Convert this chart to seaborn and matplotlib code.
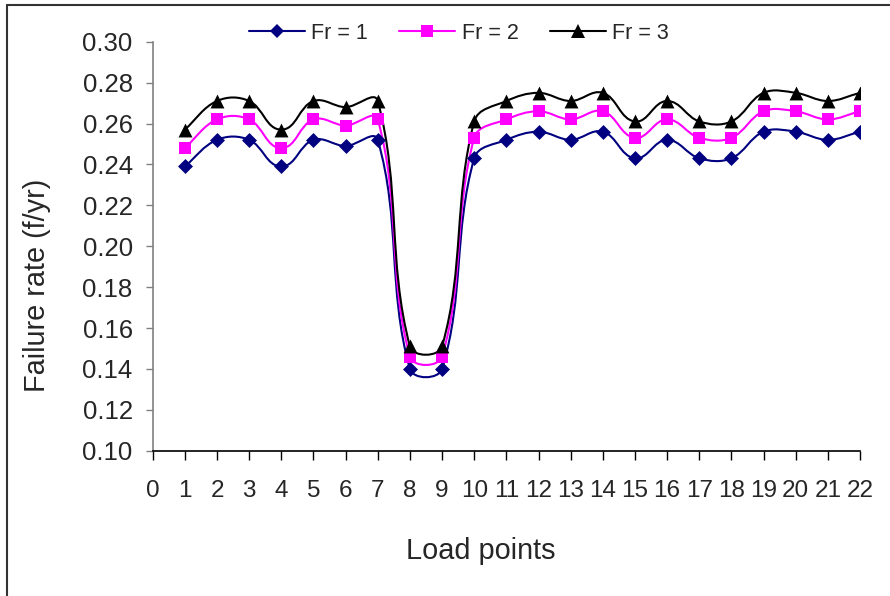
import numpy as np
import pandas as pd
import seaborn as sns
import matplotlib.pyplot as plt
from matplotlib.path import Path
from matplotlib.patches import PathPatch
from matplotlib.lines import Line2D

# values
load_points = list(range(1, 23))
fr1 = [0.239, 0.252, 0.252, 0.239, 0.252, 0.249, 0.252, 0.140, 0.140, 0.243, 0.252,
       0.256, 0.252, 0.256, 0.243, 0.252, 0.243, 0.243, 0.256, 0.256, 0.252, 0.256]
fr2 = [0.248, 0.262, 0.262, 0.248, 0.262, 0.259, 0.262, 0.146, 0.146, 0.253, 0.262,
       0.266, 0.262, 0.266, 0.253, 0.262, 0.253, 0.253, 0.266, 0.266, 0.262, 0.266]
fr3 = [0.257, 0.271, 0.271, 0.257, 0.271, 0.268, 0.271, 0.151, 0.151, 0.261, 0.271,
       0.275, 0.271, 0.275, 0.261, 0.271, 0.261, 0.261, 0.275, 0.275, 0.271, 0.275]
series_names = ['Fr = 1', 'Fr = 2', 'Fr = 3']
x_ticks = list(range(0, 23))
y_ticks = [0.10, 0.12, 0.14, 0.16, 0.18, 0.20, 0.22, 0.24, 0.26, 0.28, 0.30]

colors = ['#000080', '#FF00FF', '#000000']
markers = ['D', 's', '^']
msizes = [58, 78, 100]

df = pd.DataFrame({
    'Load points': load_points * 3,
    'Failure rate': fr1 + fr2 + fr3,
    'Series': sum([[n] * len(load_points) for n in series_names], []),
})

sns.set_theme(style='white')
plt.rcParams['font.family'] = ['Liberation Sans', 'DejaVu Sans']

fig = plt.figure(figsize=(8.9, 5.96), dpi=100)
ax = fig.add_axes([152.7 / 890, 1 - 450.7 / 596, 707.3 / 890, 409 / 596])

# pixel scale of one data unit, used to smooth the lines like Excel does
sx, sy = 707.3 / 22, 409 / 0.20


def smooth_path(xs, ys, t=0.36):
    px = np.asarray(xs, float) * sx
    py = np.asarray(ys, float) * sy
    n = len(px)
    verts = [(px[0], py[0])]
    codes = [Path.MOVETO]
    for i in range(n - 1):
        a, b = max(i - 1, 0), min(i + 2, n - 1)
        seg = np.hypot(px[i + 1] - px[i], py[i + 1] - py[i])
        t0 = np.array([px[i + 1] - px[a], py[i + 1] - py[a]])
        t0 /= np.hypot(*t0)
        t1 = np.array([px[b] - px[i], py[b] - py[i]])
        t1 /= np.hypot(*t1)
        c1 = np.array([px[i], py[i]]) + t * seg * t0
        c2 = np.array([px[i + 1], py[i + 1]]) - t * seg * t1
        verts += [tuple(c1), tuple(c2), (px[i + 1], py[i + 1])]
        codes += [Path.CURVE4] * 3
    verts = np.array(verts) / [sx, sy]
    return Path(verts, codes)


for name, col, mk, s in zip(series_names, colors, markers, msizes):
    sub = df[df['Series'] == name]
    ax.add_patch(PathPatch(smooth_path(sub['Load points'], sub['Failure rate']),
                           facecolor='none', edgecolor=col, lw=1.5, zorder=2))
    sns.scatterplot(data=sub, x='Load points', y='Failure rate', color=col, marker=mk,
                    s=s, linewidth=0, ax=ax, zorder=3, legend=False)

ax.set_xlim(0, 22)
ax.set_ylim(0.10, 0.30)
ax.set_xticks(x_ticks)
ax.set_xticklabels([str(v) for v in x_ticks])
ax.set_yticks(y_ticks)
ax.set_yticklabels(['%.2f' % v for v in y_ticks])
ax.set_xlabel('')
ax.set_ylabel('')

sns.despine(ax=ax)
ax.spines['left'].set_color('#808080')
ax.spines['bottom'].set_color('#000000')
ax.spines['left'].set_linewidth(1.2)
ax.spines['bottom'].set_linewidth(1.2)
ax.tick_params(axis='y', direction='out', length=5, width=1, color='#808080',
               labelsize=18.5, pad=9.4, left=True)
ax.tick_params(axis='x', direction='out', length=6.3, width=1, color='#000000',
               labelsize=17.5, pad=15, bottom=True)

fig.text(37 / 890, 1 - 285 / 596, 'Failure rate (f/yr)', rotation=90,
         ha='center', va='center', fontsize=20.8)
fig.text(480.8 / 890, 1 - 551 / 596, 'Load points', ha='center', va='center',
         fontsize=20.8)

handles = [Line2D([], [], color=c, marker=m, lw=1.5,
                  markersize=ms, markeredgewidth=0)
           for c, m, ms in zip(colors, markers, [7.5, 8.5, 9.5])]
fig.legend(handles, series_names, loc='center', bbox_to_anchor=(459 / 890, 1 - 33.3 / 596),
           ncol=3, frameon=False, fontsize=15.5, handlelength=2.6, handletextpad=0.3,
           columnspacing=1.45, borderpad=0, borderaxespad=0)

# chart area border (top and left edges visible)
fig.add_artist(Line2D([7 / 890, 7 / 890], [0, 1 - 4.7 / 596], transform=fig.transFigure,
                      color='#333333', lw=1.5))
fig.add_artist(Line2D([7 / 890, 1], [1 - 4.7 / 596, 1 - 4.7 / 596], transform=fig.transFigure,
                      color='#333333', lw=1.5))

fig.savefig('out.png', dpi=100)
